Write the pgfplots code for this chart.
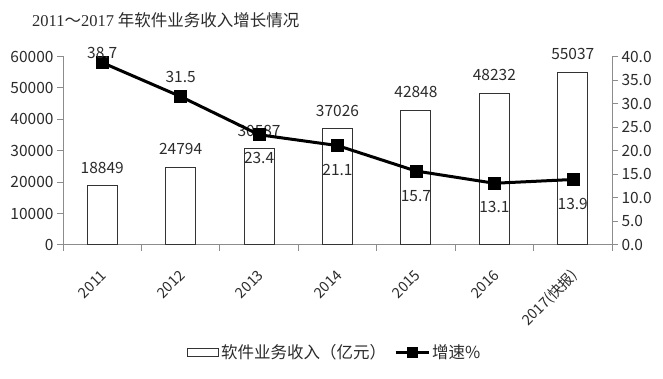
\documentclass[border=0pt]{standalone}
\usepackage{fontspec}
\setmainfont{Noto Sans CJK SC}
\newfontfamily\serifdigits{Liberation Serif}
\usepackage{pgfplots}
\pgfplotsset{compat=1.18}
\definecolor{axisgray}{HTML}{8C8C8C}
\definecolor{bargray}{HTML}{333333}
\definecolor{txt}{HTML}{2B2B2B}
\pgfplotsset{/pgf/number format/assume math mode=true}
\newcommand{\numfont}{\fontsize{15.5}{18}\selectfont}
\begin{document}
\begin{tikzpicture}
\useasboundingbox (0,0) rectangle (663pt,379pt);
\node[anchor=base west, inner sep=0pt, text=txt, font=\fontsize{16.5}{19}\selectfont] at (32pt,352pt) {{\serifdigits 2011}～{\serifdigits 2017} 年软件业务收入增长情况};
\begin{axis}[
  at={(63pt,134pt)}, anchor=south west,
  scale only axis, width=549pt, height=188.5pt,
  xmin=-0.5, xmax=6.5, ymin=0, ymax=60000,
  axis y line*=left, axis x line*=bottom,
  axis line style={draw=axisgray, line width=1pt, -},
  tick style={draw=axisgray, line width=1pt},
  tick align=outside, major tick length=6pt,
  ytick={0,10000,...,60000},
  scaled y ticks=false,
  yticklabel style={/pgf/number format/fixed, /pgf/number format/set thousands separator={}},
  ticklabel style={font=\numfont, text=txt},
  xtick={-0.5,0.5,...,6.5},
  x tick label as interval,
  xticklabels={2011,2012,2013,2014,2015,2016,2017(快报)},
  x tick label style={xshift=-2pt, yshift=-13pt, rotate=45, anchor=north east,
    font=\fontsize{14.5}{17}\selectfont, text height=10.5pt, text depth=2pt},
  ybar, bar width=30pt,
  nodes near coords={\pgfmathprintnumber[fixed,precision=0,set thousands separator={}]{\pgfplotspointmeta}},
  nodes near coords style={anchor=center, yshift=18pt, font=\numfont, text=txt, inner sep=0pt},
]
\addplot[draw=bargray, fill=white, line width=1pt] table[x=x,y=y] {
x y
0 18849
1 24794
2 30587
3 37026
4 42848
5 48232
6 55037
};
\end{axis}
\begin{axis}[
  at={(63pt,134pt)}, anchor=south west,
  scale only axis, width=549pt, height=188.5pt,
  xmin=-0.5, xmax=6.5, ymin=0, ymax=40,
  axis y line*=right, axis x line=none,
  axis line style={draw=axisgray, line width=1pt, -},
  tick style={draw=axisgray, line width=1pt},
  tick align=outside, major tick length=6pt,
  ytick={0,5,...,40},
  yticklabel style={/pgf/number format/fixed, /pgf/number format/fixed zerofill, /pgf/number format/precision=1},
  ticklabel style={font=\numfont, text=txt},
  legend style={at={(0.495,-0.568)}, anchor=center, draw=none, fill=none,
    font=\fontsize{16.5}{19}\selectfont, text=txt,
    /tikz/every even column/.append style={column sep=6pt}},
  legend columns=2,
]
\addlegendimage{legend image code/.code={\draw[draw=bargray, fill=white, line width=1pt] (0pt,-4pt) rectangle (31pt,4pt);}}
\addlegendentry{软件业务收入（亿元）}
\addplot[black, line width=3pt, mark=square*, mark size=6pt, mark options={solid, line width=0.5pt},
  visualization depends on={value \thisrow{off}\as\myoff},
  point meta=y,
  nodes near coords={\pgfmathprintnumber[fixed,fixed zerofill,precision=1]{\pgfplotspointmeta}},
  nodes near coords style={anchor=center, yshift={\myoff*1pt}, font=\numfont, text=txt, inner sep=0pt},
  legend image code/.code={\draw[black, line width=3pt] (0pt,0pt) -- (33pt,0pt);
    \draw[black, mark=square*, mark size=5pt, mark options={solid, line width=0.5pt}] plot coordinates {(16.5pt,0pt)};}
] table[x=x,y=y] {
x y off
0 38.7 10
1 31.5 20
2 23.4 -23
3 21.1 -24
4 15.7 -25
5 13.1 -24
6 13.9 -24
};
\addlegendentry{增速\%}
\end{axis}
\end{tikzpicture}
\end{document}
